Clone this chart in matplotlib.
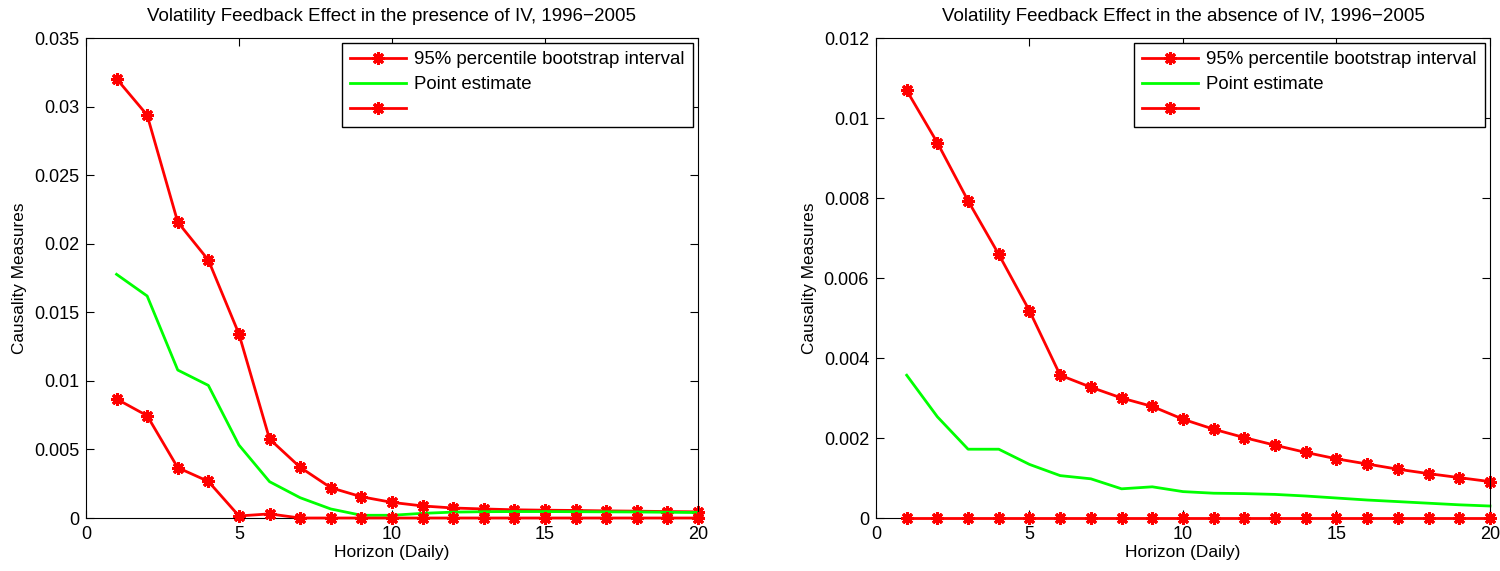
import matplotlib
matplotlib.use("Agg")
import matplotlib.pyplot as plt

plt.rcParams.update({
    "font.family": ["Liberation Sans", "DejaVu Sans"],
    "font.size": 13,
    "xtick.direction": "in",
    "ytick.direction": "in",
    "xtick.top": True,
    "ytick.right": True,
})

horizon = list(range(1, 21))

# presence of IV
upper_iv = [0.03203, 0.02938, 0.02158, 0.01881, 0.01342, 0.00576, 0.00370, 0.00221,
            0.00155, 0.00114, 0.00088, 0.00073, 0.00066, 0.00060, 0.00057, 0.00055,
            0.00052, 0.00050, 0.00047, 0.00045]
lower_iv = [0.00868, 0.00746, 0.00367, 0.00267, 0.00015, 0.00030, 0.0, 0.0,
            0.0, 0.0, 0.0, 0.0, 0.0, 0.0, 0.0, 0.0, 0.0, 0.0, 0.0, 0.0]
point_iv = [0.01777, 0.01619, 0.01079, 0.00967, 0.00532, 0.00265, 0.00148, 0.00066,
            0.00020, 0.00020, 0.00034, 0.00043, 0.00046, 0.00047, 0.00047, 0.00046,
            0.00045, 0.00044, 0.00042, 0.00040]

# absence of IV
upper_noiv = [0.01069, 0.00938, 0.00793, 0.00659, 0.00518, 0.00357, 0.00327, 0.00300,
              0.00279, 0.00247, 0.00222, 0.00201, 0.00182, 0.00164, 0.00148, 0.00135,
              0.00122, 0.00111, 0.00101, 0.00091]
lower_noiv = [0.0] * 20
point_noiv = [0.00357, 0.00253, 0.00172, 0.00172, 0.00134, 0.00106, 0.00098, 0.00073,
              0.00078, 0.00066, 0.00062, 0.00061, 0.00059, 0.00055, 0.00050, 0.00045,
              0.00041, 0.00037, 0.00033, 0.00030]

titles = ["Volatility Feedback Effect in the presence of IV, 1996\u22122005",
          "Volatility Feedback Effect in the absence of IV, 1996\u22122005"]
legend_labels = ["95% percentile bootstrap interval", "Point estimate", " "]
ylims = [(0, 0.035), (0, 0.012)]
yticks = [[0, 0.005, 0.01, 0.015, 0.02, 0.025, 0.03, 0.035],
          [0, 0.002, 0.004, 0.006, 0.008, 0.01, 0.012]]
ytick_labels = [["0", "0.005", "0.01", "0.015", "0.02", "0.025", "0.03", "0.035"],
                ["0", "0.002", "0.004", "0.006", "0.008", "0.01", "0.012"]]

fig = plt.figure(figsize=(15, 5.71), dpi=100)
axes = [fig.add_axes([0.0573, 0.0928, 0.408, 0.8406]),
        fig.add_axes([0.584, 0.0928, 0.4093, 0.8406])]

data = [(upper_iv, point_iv, lower_iv), (upper_noiv, point_noiv, lower_noiv)]

for i, ax in enumerate(axes):
    up, pt, lo = data[i]
    mk = dict(color="#ff0000", lw=2, marker=(8, 2, 0), ms=9, mew=2.2, clip_on=False)
    h1, = ax.plot(horizon, up, **mk)
    h2, = ax.plot(horizon, pt, color="#00ff00", lw=2, clip_on=False)
    h3, = ax.plot(horizon, lo, zorder=3, **mk)
    ax.set_xlim(0, 20)
    ax.set_ylim(*ylims[i])
    ax.set_xticks([0, 5, 10, 15, 20])
    ax.set_yticks(yticks[i])
    ax.set_yticklabels(ytick_labels[i])
    ax.tick_params(axis="x", labelsize=13, length=6, width=0.8, pad=6)
    ax.tick_params(axis="y", labelsize=13, length=6, width=0.8, pad=5)
    ax.set_title(titles[i], fontsize=13.5, pad=12)
    ax.set_xlabel("Horizon (Daily)", fontsize=12.5, labelpad=1)
    ax.set_ylabel("Causality Measures", fontsize=12.3, labelpad=5)
    leg = ax.legend([h1, h2, h3], legend_labels,
                    loc="upper right", fontsize=13.4, fancybox=False, framealpha=1,
                    edgecolor="black", borderaxespad=0.25, handlelength=3.0,
                    handletextpad=0.45, labelspacing=0.45, borderpad=0.45)
    leg.get_frame().set_linewidth(1.0)
    for sp in ax.spines.values():
        sp.set_linewidth(0.8)

fig.savefig("out.png", dpi=100)
